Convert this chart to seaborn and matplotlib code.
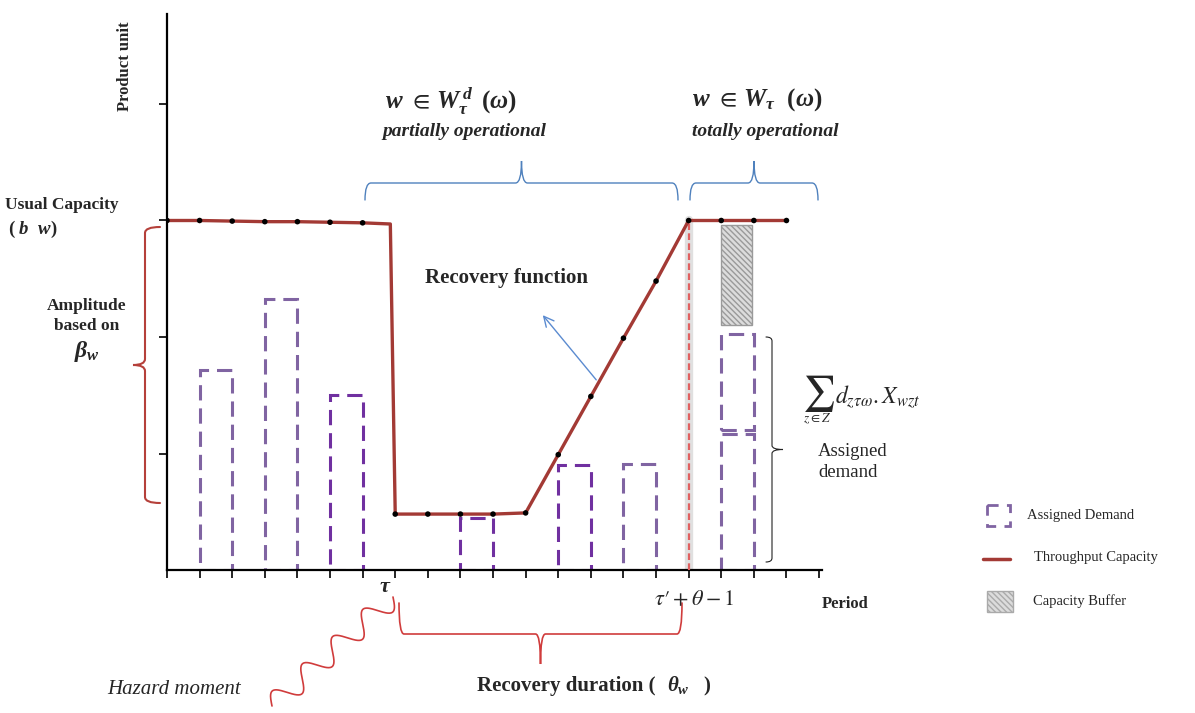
import numpy as np
import pandas as pd
import seaborn as sns
import matplotlib.pyplot as plt
from matplotlib.path import Path
from matplotlib.patches import PathPatch, Rectangle

# throughput capacity (product units) per period
capacity_period = [0, 1, 2, 3, 4, 5, 6, 6.85, 7, 8, 9, 10, 11, 12, 13, 14, 15, 16, 17, 18, 19]
capacity_value = [3.0, 3.0, 2.995, 2.99, 2.99, 2.985, 2.98, 2.97, 0.48, 0.48, 0.48, 0.48, 0.49,
                  0.99, 1.49, 1.99, 2.48, 3.0, 3.0, 3.0, 3.0]

# assigned demand bars
demand_period = [1, 3, 5, 9, 12, 14, 17]
demand_value = [1.72, 2.33, 1.50, 0.45, 0.90, 0.91, 1.17]
demand_color = ["#8064a2", "#8064a2", "#7030a0", "#7030a0", "#7030a0", "#8064a2", "#8064a2"]

# second demand block stacked on period 17
stack_period = [17]
stack_bottom = [1.20]
stack_value = [0.83]

# capacity buffer
buffer_period = [17]
buffer_bottom = [2.10]
buffer_value = [0.86]

recovery_end = 16
usual_capacity = 3.0

CAP_COLOR = "#a33a35"
BLUE = "#4f81bd"
RED = "#d03c3c"
W, H = 1195, 713


def brace(ax, start, end, normal, h, t, color, lw, r=6):
    """Curly brace between two pixel points, tip pushed along normal."""
    p0 = np.array(start, float)
    p1 = np.array(end, float)
    L = np.linalg.norm(p1 - p0)
    tv = (p1 - p0) / L
    nv = np.array(normal, float)

    def P(u, v):
        return tuple(p0 + u * tv + v * nv)

    m = L / 2
    verts = [P(0, 0), P(0, h), P(r, h), P(m - r, h), P(m, h), P(m, h + t),
             P(m, h), P(m + r, h), P(L - r, h), P(L, h), P(L, 0)]
    codes = [Path.MOVETO, Path.CURVE3, Path.CURVE3, Path.LINETO, Path.CURVE3, Path.CURVE3,
             Path.CURVE3, Path.CURVE3, Path.LINETO, Path.CURVE3, Path.CURVE3]
    ax.add_patch(PathPatch(Path(verts, codes), fill=False, edgecolor=color, lw=lw, capstyle="round"))


def main():
    sns.set_style("white")
    plt.rcParams["font.family"] = ["Liberation Serif", "DejaVu Serif"]
    plt.rcParams["mathtext.fontset"] = "stix"
    # "custom" math font = bold Times-like, used for the bold formulas
    plt.rcParams["mathtext.it"] = "Liberation Serif:italic:bold"
    plt.rcParams["mathtext.rm"] = "Liberation Serif:bold"
    plt.rcParams["mathtext.bf"] = "Liberation Serif:bold"
    plt.rcParams["mathtext.fallback"] = "stix"

    fig = plt.figure(figsize=(W / 100, H / 100), dpi=100)
    ax = fig.add_axes([167 / W, 143 / H, 655 / W, 556 / H])
    ax.set_facecolor("none")

    df = pd.DataFrame({"period": capacity_period, "capacity": capacity_value})
    dots = df[df["period"] != 6.85]

    # assigned demand (dashed empty boxes)
    for p, v, c in zip(demand_period, demand_value, demand_color):
        ax.bar(p, v, width=1, align="edge", fill=False, edgecolor=c,
               linestyle=(0, (5, 2.6)), linewidth=2.2, zorder=2)
    ax.bar(stack_period, stack_value, bottom=stack_bottom, width=1, align="edge", fill=False,
           edgecolor="#8064a2", linestyle=(0, (5, 2.6)), linewidth=2.2, zorder=2)
    ax.bar(buffer_period, buffer_value, bottom=buffer_bottom, width=0.95, align="edge",
           color="#dcdcdc", edgecolor="#9a9a9a", hatch="\\\\\\\\\\\\", linewidth=1, zorder=2)

    # end of recovery marker
    ax.plot([recovery_end, recovery_end], [0, usual_capacity], color="#bbbbbb", lw=6, alpha=0.45, zorder=1)
    ax.plot([recovery_end, recovery_end], [0, usual_capacity], color="#e06060", lw=1.6,
            linestyle=(0, (3, 1.5)), zorder=3)

    sns.lineplot(data=df, x="period", y="capacity", color=CAP_COLOR, lw=2.4, estimator=None,
                 sort=False, ax=ax, zorder=4)
    sns.scatterplot(data=dots, x="period", y="capacity", color="black", s=16, edgecolor="none",
                    ax=ax, zorder=5)

    ax.set_xlim(0, 20.09)
    ax.set_ylim(0, 556 / 116.5)
    ax.set_xticks(range(0, 21))
    ax.set_yticks([1, 2, 3, 4])
    ax.tick_params(bottom=True, left=True, direction="out", length=5.5, width=1.2,
                   labelbottom=False, labelleft=False, color="black")
    ax.set_xlabel("")
    ax.set_ylabel("")
    sns.despine(ax=ax)
    for s in ["left", "bottom"]:
        ax.spines[s].set_color("black")
        ax.spines[s].set_linewidth(1.6)

    # overlay in pixel coordinates for annotations
    ov = fig.add_axes([0, 0, 1, 1])
    ov.set_xlim(0, W)
    ov.set_ylim(H, 0)
    ov.axis("off")
    ov.set_facecolor("none")

    ov.text(125, 66, "Product unit", rotation=90, ha="center", va="center", fontsize=12, fontweight="bold")
    ov.text(5, 205, "Usual Capacity", ha="left", va="center", fontsize=12.5, fontweight="bold")
    ov.text(8, 229, r"( $b$  $w$)", ha="left", va="center", fontsize=13.5, fontweight="bold",
            math_fontfamily="custom")
    ov.text(87, 316, "Amplitude\nbased on", ha="center", va="center", fontsize=12.5,
            fontweight="bold", linespacing=1.4)
    ov.text(87, 352, r"$\beta_w$", ha="center", va="center", fontsize=17, math_fontfamily="custom")

    ov.text(385, 100, r"$w\ \in\, W_{\tau}^{\,d}\ \,(\omega)$", ha="left", va="center", fontsize=18,
            math_fontfamily="custom")
    ov.text(382, 132, "partially operational", ha="left", va="center", fontsize=14,
            fontweight="bold", style="italic")
    ov.text(692, 100, r"$w\ \in\, W_{\tau}\ \ (\omega)$", ha="left", va="center", fontsize=18,
            math_fontfamily="custom")
    ov.text(692, 132, "totally operational", ha="left", va="center", fontsize=14,
            fontweight="bold", style="italic")
    ov.text(425, 278, "Recovery function", ha="left", va="center", fontsize=15, fontweight="bold")

    # sum formula
    ov.text(818, 393, r"$\sum$", ha="center", va="center", fontsize=26)
    ov.text(817, 419, r"$z\in Z$", ha="center", va="center", fontsize=9.5)
    ov.text(835, 397, r"$d_{z\tau\omega}.X_{wzt}$", ha="left", va="center", fontsize=17)
    ov.text(818, 462, "Assigned\ndemand", ha="left", va="center", fontsize=13.5, linespacing=1.25)

    ov.text(385, 588, r"$\tau$", ha="center", va="center", fontsize=16, math_fontfamily="custom")
    ov.text(654, 600, r"$\tau\prime + \theta - 1$", ha="left", va="center", fontsize=16)
    ov.text(822, 604, "Period", ha="left", va="center", fontsize=12, fontweight="bold")
    ov.text(477, 686, "Recovery duration (", ha="left", va="center", fontsize=15, fontweight="bold")
    ov.text(667, 686, r"$\theta_w$   )", ha="left", va="center", fontsize=15, fontweight="bold",
            math_fontfamily="custom")
    ov.text(107, 690, "Hazard moment", ha="left", va="center", fontsize=15, style="italic")

    # braces
    brace(ov, (160, 227), (160, 503), (-1, 0), 15, 12, "#b5403a", 1.5)
    brace(ov, (365, 200), (678, 200), (0, -1), 17, 22, BLUE, 1.0)
    brace(ov, (690, 200), (818, 200), (0, -1), 17, 22, BLUE, 1.0)
    brace(ov, (766, 337), (766, 562), (1, 0), 6, 11, "#222222", 0.8, r=4)
    brace(ov, (399, 603), (682, 603), (0, 1), 31, 30, RED, 1.2, r=5)

    # hazard wave
    s = np.linspace(0, 1, 400)
    a = np.array([393.0, 597.0])
    b = np.array([272.0, 706.0])
    d = b - a
    n = np.array([d[1], -d[0]]) / np.linalg.norm(d)
    amp = 11 * np.sin(2 * np.pi * 4 * s)
    pts = a + np.outer(s, d) + np.outer(amp, n)
    ov.plot(pts[:, 0], pts[:, 1], color=RED, lw=1.2)

    ov.annotate("", xy=(541, 313), xytext=(598, 382),
                arrowprops=dict(arrowstyle="->", color="#5b8bd0", lw=1, mutation_scale=18))

    # legend
    ov.add_patch(Rectangle((987, 505), 23, 21, fill=False, edgecolor="#8064a2", lw=2,
                           linestyle=(0, (4, 3))))
    ov.text(1027, 515, "Assigned Demand", ha="left", va="center", fontsize=10.5)
    ov.plot([983, 1010], [559, 559], color=CAP_COLOR, lw=2.5)
    ov.text(1034, 557, "Throughput Capacity", ha="left", va="center", fontsize=10.5)
    ov.add_patch(Rectangle((987, 591), 26, 21, facecolor="#dcdcdc", edgecolor="#aaaaaa",
                           hatch="\\\\\\\\\\\\", lw=1))
    ov.text(1033, 601, "Capacity Buffer", ha="left", va="center", fontsize=10.5)

    fig.savefig("out.png", dpi=100)


if __name__ == "__main__":
    main()
